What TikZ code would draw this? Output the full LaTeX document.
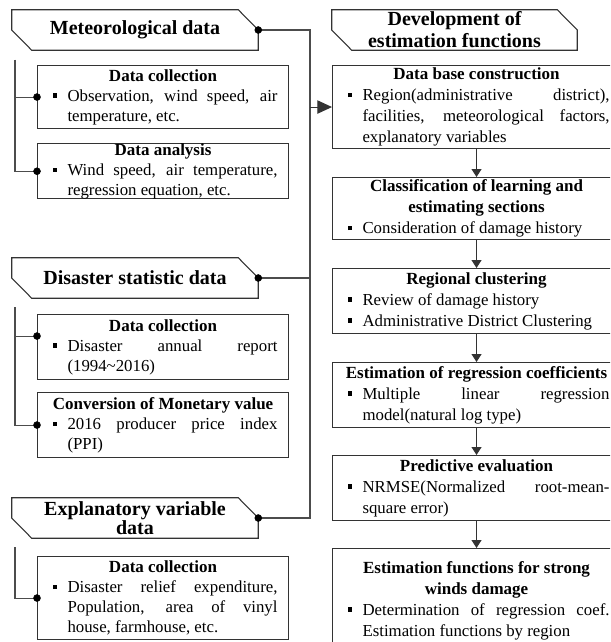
\documentclass[tikz,border=0pt]{standalone}
\usepackage{fontspec}
\setmainfont{Liberation Serif}
\usetikzlibrary{calc,arrows.meta}
\hyphenpenalty=10000
\tolerance=9999
\hbadness=10000
\def\noshrink{\fontdimen4\font=0pt\relax}
\def\headshape(#1){\draw[line width=0.8pt, color=black!80] (#1.north west) -- ($(#1.north east)+(-15pt,0)$) -- (#1.east) -- (#1.south east) -- ($(#1.south west)+(15pt,0)$) -- (#1.west) -- cycle;}
\def\boxtitle#1{{\centering\fontsize{12.75}{15.5}\bfseries #1\par}}
\def\bul#1{\par\noindent\hangindent=14.25pt\hangafter=1\makebox[14.25pt][l]{\hspace{3pt}\rule[2.6pt]{3.2pt}{3.2pt}}#1\par}

\begin{document}
\begin{tikzpicture}[x=0.75pt, y=-0.75pt,
		head/.style={inner sep=0pt, minimum height=30pt, align=center, font=\fontsize{15}{16.5}\selectfont\bfseries},
		lbox/.style={draw=black!80, line width=0.8pt, anchor=north west, inner xsep=8.25pt, inner ysep=0pt, text width=171.75pt, align=justify, font=\fontsize{12.6}{15}\selectfont\noshrink},
		rbox/.style={draw=black!80, line width=0.8pt, anchor=north west, inner xsep=8.25pt, inner ysep=0pt, text width=199.5pt, align=justify, font=\fontsize{12.6}{15.75}\selectfont\noshrink},
		link/.style={line width=0.8pt, color=black!70},
		arr/.style={line width=0.8pt, color=black!80, -{Triangle[width=7.5pt,length=6pt]}}]
		%%%%% START %%%%%
		\useasboundingbox (0,0) rectangle (610,642);
		\clip (0,0) rectangle (610,642);
		
		% left column headers
		\node[head, minimum width=184.5pt] (met) at (135,30) {Meteorological data};
		\headshape(met);
		\node[head, minimum width=184.5pt] (dis) at (135,278) {Disaster statistic data};
		\headshape(dis);
		\node[head, minimum width=184.5pt, font=\fontsize{15}{12}\selectfont\bfseries] (expl) at (135,518) {Explanatory variable\\ data};
		\headshape(expl);
		
		% meteorological data
		\node[lbox, minimum height=47.25pt] (mcol) at (37,65) {\boxtitle{Data collection}\bul{Observation, wind speed, air temperature, etc.}};
		\node[lbox, minimum height=41.25pt] (mana) at (37,143) {\boxtitle{Data analysis}\bul{Wind speed, air temperature, regression equation, etc.}};
		
		\coordinate (mtop) at (15,60);
		\draw[link] (mtop) |- (mcol.west);
		\draw[link] (mtop) |- (mana.west);
		\draw[fill=black] (mcol.west) circle (2.6pt);
		\draw[fill=black] (mana.west) circle (2.6pt);
		
		% disaster statistic data
		\node[lbox, minimum height=48.75pt] (dcol) at (37,314) {\boxtitle{Data collection}\bul{Disaster annual report (1994\textasciitilde 2016)}};
		\node[lbox, minimum height=48.75pt] (dmon) at (37,392) {\boxtitle{Conversion of Monetary value}\bul{2016 producer price index (PPI)}};
		
		\coordinate (dtop) at (15,307);
		\coordinate (dpin) at ($(dcol.west)+(0,-11)$);
		\draw[link] (dtop) |- (dpin);
		\draw[link] (dtop) |- (dmon.west);
		\draw[fill=black] (dpin) circle (2.6pt);
		\draw[fill=black] (dmon.west) circle (2.6pt);
		
		% explanatory variable data
		\node[lbox, minimum height=62.25pt] (ecol) at (37,556) {\boxtitle{Data collection}\bul{Disaster relief expenditure, Population, area of vinyl house, farmhouse, etc.}};
		
		\coordinate (etop) at (15,547);
		\draw[link] (etop) |- (ecol.west);
		\draw[fill=black] (ecol.west) circle (2.6pt);
		
		% right column
		\node[head, minimum width=183.75pt] (dev) at (454.5,30) {Development of\\ estimation functions};
		\headshape(dev);
		
		\node[rbox, minimum height=62.25pt] (dbase) at (332,65) {\boxtitle{Data base construction}\bul{Region(administrative district), facilities, meteorological factors, explanatory variables}};
		\node[rbox, minimum height=46.5pt] (dclass) at (332,177) {\boxtitle{Classification of learning and\\ estimating sections}\bul{Consideration of damage history}};
		\node[rbox, minimum height=48.75pt] (dclust) at (332,268) {\boxtitle{Regional clustering}\bul{Review of damage history}\bul{Administrative District Clustering}};
		\node[rbox, minimum height=48.75pt] (dcoef) at (332,362) {\boxtitle{Estimation of regression coefficients}\bul{Multiple linear regression model(natural log type)}};
		\node[rbox, minimum height=48.75pt] (deval) at (332,455) {\boxtitle{Predictive evaluation}\bul{NRMSE(Normalized root-mean-square error)}};
		\node[rbox, minimum height=78pt] (dfunc) at (332,548) {\boxtitle{Estimation functions for strong\\ winds damage}\bul{Determination of regression coef. Estimation functions by region}};
		
		\draw[arr] (dbase.south) -- (dclass.north);
		\draw[arr] (dclass.south) -- (dclust.north);
		\draw[arr] (dclust.south) -- (dcoef.north);
		\draw[arr] (dcoef.south) -- (deval.north);
		\draw[arr] (deval.south) -- (dfunc.north);
		
		% collecting line
		\coordinate (bustop) at (310,30);
		\coordinate (busbot) at (310,518);
		\draw[link] (met.east) -- (bustop) -- (busbot) -- (expl.east);
		\draw[link] (dis.east) -- (dis.east -| bustop);
		\draw[arr, -{Triangle[width=10pt,length=11pt]}] (dbase.west -| bustop) -- (dbase.west);
		\draw[fill=black] (met.east) circle (2.6pt);
		\draw[fill=black] (dis.east) circle (2.6pt);
		\draw[fill=black] (expl.east) circle (2.6pt);
		%%%%% END %%%%%
\end{tikzpicture}
\end{document}
